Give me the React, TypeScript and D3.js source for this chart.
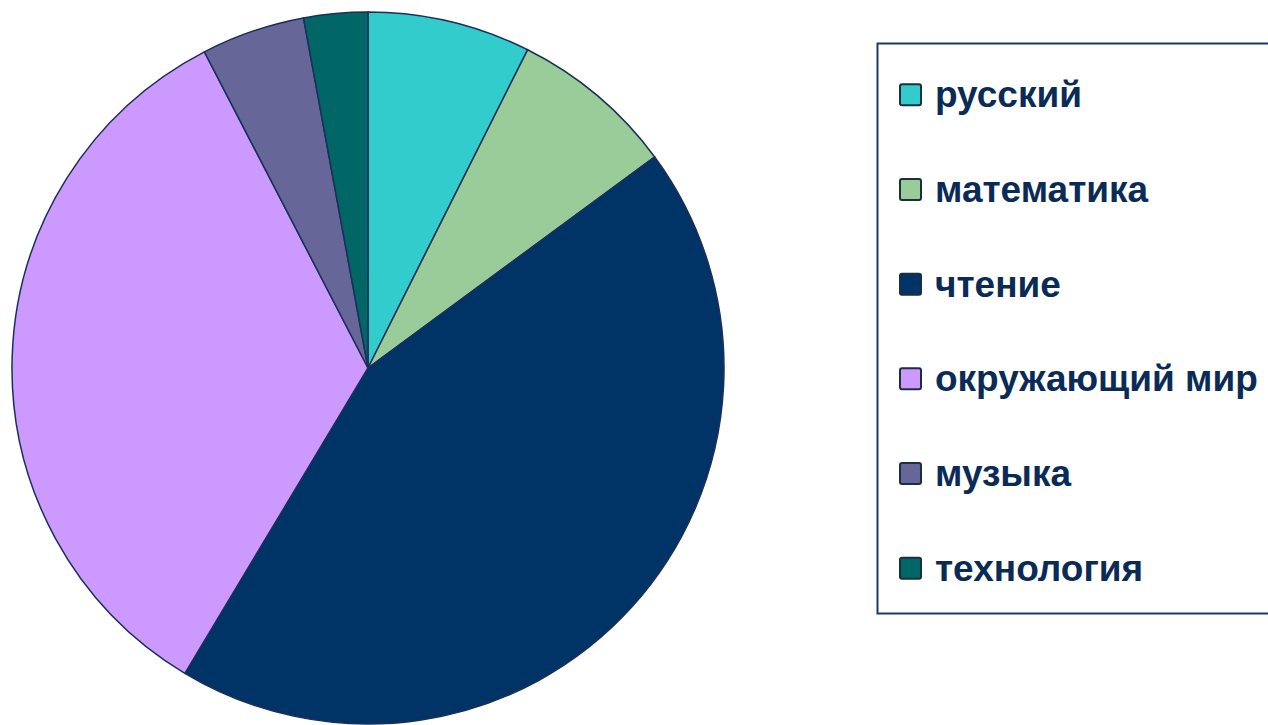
import React from 'react';
import * as d3 from 'd3';

// share of each subject (percent)
const subjects = ['русский', 'математика', 'чтение', 'окружающий мир', 'музыка', 'технология'];
const shares = [7.4, 7.5, 43.7, 33.8, 4.7, 2.9];
const colors = ['#33CCCC', '#99CC99', '#003366', '#CC99FF', '#666699', '#006666'];

const App = () => {
  const width = 1268;
  const height = 725;
  const cx = 368;
  const cy = 368;
  const radius = 356;

  const data = subjects.map((name, i) => ({ name, value: shares[i], color: colors[i] }));

  const pie = d3.pie<any>()
    .value(d => d.value)
    .sort(null);
  const arc = d3.arc<any>().innerRadius(0).outerRadius(radius);
  const arcs = pie(data);

  const legendY = d3.scaleBand()
    .domain(subjects)
    .range([48, 616]);

  return (
    <svg width={width} height={height} style={{ position: 'absolute', left: 0, top: 0 }}>
      <rect width={width} height={height} fill="#fff" />
      <g transform={`translate(${cx},${cy})`}>
        {arcs.map(a => (
          <path key={a.data.name} d={arc(a) || ''} fill={a.data.color} stroke="#1C2F5A" strokeWidth={1.5} />
        ))}
      </g>

      {/* legend */}
      <rect x={877.5} y={43.5} width={420} height={570} fill="#fff" stroke="#1C3A5E" strokeWidth={2} />
      {subjects.map((s, i) => {
        const y = (legendY(s) || 0) + legendY.bandwidth() / 2;
        return (
          <g key={s} transform={`translate(0,${y})`}>
            <rect x={900} y={-11} width={21} height={21} rx={2} fill={colors[i]} stroke="#1C2F3F" strokeWidth={2} />
            <text x={935} y={12} fontFamily="Liberation Sans, Arial, sans-serif" fontWeight="bold"
              fontSize={37} fill="#0B2B57">{s}</text>
          </g>
        );
      })}
    </svg>
  );
};

export default App;
